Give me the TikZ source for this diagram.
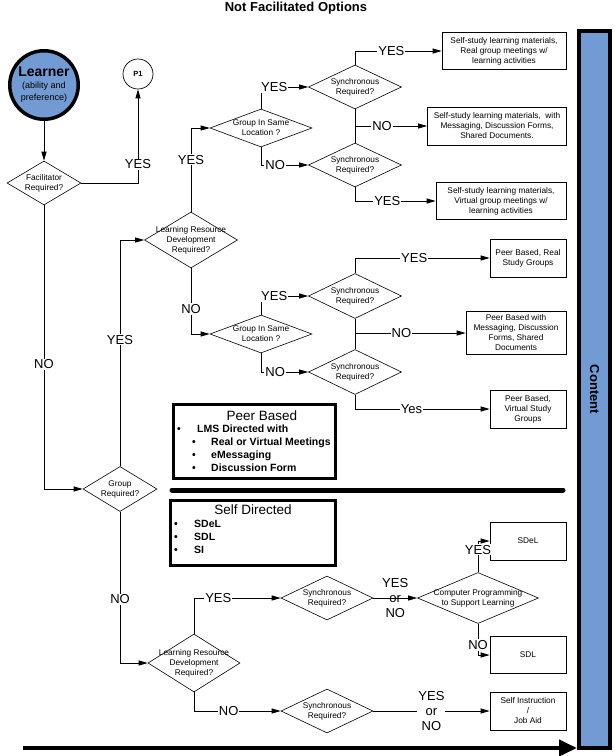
\documentclass[tikz,border=0pt]{standalone}
\usepackage{fontspec}
\setmainfont{Liberation Sans}
\usetikzlibrary{shapes.geometric,arrows.meta}
\definecolor{learnerblue}{RGB}{114,155,212}
\newcommand{\smallfont}{\fontsize{8.3}{10}\selectfont}
\newcommand{\answerfont}{\fontsize{13}{15}\selectfont}

\begin{document}
\begin{tikzpicture}[x=1pt, y=-1pt,
  decision/.style 2 args={diamond, draw, line width=0.6pt, inner sep=0pt, minimum width=#1, minimum height=#2},
  outcome/.style 2 args={rectangle, draw, line width=0.7pt, inner sep=1pt, align=center, font=\smallfont, minimum width=#1, minimum height=#2},
  legend/.style 2 args={rectangle, draw, line width=3pt, inner sep=0pt, minimum width=#1, minimum height=#2},
  every label/.style={align=center, font=\smallfont, inner sep=0pt},
  item/.style={anchor=west, inner sep=0pt, font=\fontsize{10.5}{12}\selectfont\bfseries},
  link/.style={line width=0.8pt},
  arr/.style={-{Triangle[length=9pt,width=5pt]}, line width=0.8pt},
  answer/.style={font=\answerfont, align=center, fill=white, inner sep=1pt}]
  \useasboundingbox (0,0) rectangle (614,756);
  \node[font=\fontsize{13}{15}\selectfont\bfseries] (title) at (296,8) {Not Facilitated Options};
  \node[circle, draw, line width=3.5pt, fill=learnerblue, minimum size=68.5pt, inner sep=0pt, align=center, font=\fontsize{9}{12}\selectfont] (learner) at (44,85) {{\fontsize{14}{16}\selectfont\bfseries Learner}\\(ability and\\preference)};
  \node[circle, draw, line width=0.7pt, minimum size=30pt, inner sep=0pt, font=\fontsize{7.5}{9}\selectfont\bfseries] (p1) at (138,74) {P1};
  \node[decision={74pt}{44pt}, label=center:{Facilitator\\Required?}] (fac) at (44,183) {};
  \node[decision={74pt}{45pt}, label=center:{Group\\Required?}] (grp) at (120,489) {};
  \node[decision={93pt}{56pt}, label=center:{Learning Resource\\Development\\Required?}] (lrd1) at (191,240) {};
  \node[decision={102pt}{38pt}, label=center:{Group In Same\\Location ?}] (gsl1) at (261,128) {};
  \node[decision={93pt}{44pt}, label=center:{Synchronous\\Required?}] (sync1) at (355,87) {};
  \node[decision={93pt}{44pt}, label=center:{Synchronous\\Required?}] (sync2) at (355,165) {};
  \node[decision={102pt}{38pt}, label=center:{Group In Same\\Location ?}] (gsl2) at (261,334) {};
  \node[decision={93pt}{45pt}, label=center:{Synchronous\\Required?}] (sync3) at (355,296) {};
  \node[decision={93pt}{45pt}, label=center:{Synchronous\\Required?}] (sync4) at (355,372) {};
  \node[decision={92pt}{58pt}, label=center:{Learning Resource\\Development\\Required?}] (lrd2) at (194,663) {};
  \node[decision={92pt}{44pt}, label=center:{Synchronous\\Required?}] (sync5) at (327,598) {};
  \node[decision={92pt}{44pt}, label=center:{Synchronous\\Required?}] (sync6) at (327,711) {};
  \node[decision={121pt}{51pt}, label=center:{Computer Programming\\to Support Learning}] (cp) at (478,598) {};
  \node[outcome={124pt}{37pt}] (realgroup) at (504,51) {Self-study learning materials,\\Real group meetings w/\\learning activities};
  \node[outcome={139pt}{38pt}] (messaging) at (497,126) {Self-study learning materials,\ \ with\\Messaging, Discussion Forms,\\Shared Documents.};
  \node[outcome={130pt}{37pt}] (virtualgroup) at (501,201) {Self-study learning materials,\\Virtual group meetings w/\\learning activities};
  \node[outcome={76pt}{38pt}] (peerreal) at (528,258) {Peer Based, Real\\Study Groups};
  \node[outcome={100pt}{43pt}] (peermsg) at (516,333) {Peer Based with\\Messaging, Discussion\\Forms, Shared\\Documents};
  \node[outcome={76pt}{38pt}] (peervirtual) at (528,409) {Peer Based,\\Virtual Study\\Groups};
  \node[outcome={76pt}{38pt}] (sdel) at (528,541) {SDeL};
  \node[outcome={76pt}{37pt}] (sdl) at (528,655) {SDL};
  \node[outcome={76pt}{38pt}] (jobaid) at (528,711) {Self Instruction\\/\\Job Aid};
  \node[legend={162pt}{74pt}] (peer) at (254.5,441.5) {};
  \node[font=\fontsize{13.5}{16}\selectfont] (peertitle) at (262,416) {Peer Based};
  \node[item] (peeritem1) at (177,429) {\makebox[20pt][l]{\textbullet}LMS Directed with};
  \node[item] (peeritem2) at (192,443) {\makebox[19pt][l]{\textbullet}Real or Virtual Meetings};
  \node[item] (peeritem3) at (192,456) {\makebox[19pt][l]{\textbullet}eMessaging};
  \node[item] (peeritem4) at (192,468) {\makebox[19pt][l]{\textbullet}Discussion Form};
  \node[legend={165pt}{65pt}] (self) at (253,533) {};
  \node[font=\fontsize{13.5}{16}\selectfont] (selftitle) at (253,510) {Self Directed};
  \node[item] (selfitem1) at (174,524) {\makebox[20pt][l]{\textbullet}SDeL};
  \node[item] (selfitem2) at (174,537) {\makebox[20pt][l]{\textbullet}SDL};
  \node[item] (selfitem3) at (174,550) {\makebox[20pt][l]{\textbullet}SI};
  \node[draw, line width=4pt, fill=learnerblue, rotate=-90, minimum width=717pt, minimum height=31pt, inner sep=0pt, font=\fontsize{13}{15}\selectfont\bfseries] (content) at (594.5,389.5) {Content};
  \coordinate (dividerleft) at (172,490);
  \coordinate (dividerright) at (563,490);
  \coordinate (flowstart) at (23,748);
  \draw[line width=5pt, line cap=round] (dividerleft) -- (dividerright);
  \draw[line width=4pt, -{Triangle[length=18pt,width=16pt]}] (flowstart) -- (content.south |- flowstart);
  \draw[arr] (learner) -- (fac);
  \draw[arr] (fac.east) -| node[answer, pos=0.6] {YES} (p1.south);
  \draw[arr] (fac.south) |- node[answer, pos=0.28] {NO} (grp.west);
  \draw[arr] (grp.north) |- node[answer, pos=0.28] {YES} (lrd1.west);
  \draw[arr] (lrd1.north) |- node[answer, pos=0.31] {YES} (gsl1.west);
  \draw[arr] (lrd1.south) |- node[answer, pos=0.31] {NO} (gsl2.west);
  \draw[arr] (gsl1.north) |- node[answer, pos=0.64] {YES} (sync1.west);
  \draw[arr] (gsl1.south) |- node[answer, pos=0.65] {NO} (sync2.west);
  \draw[arr] (sync1.north) |- node[answer, pos=0.71] {YES} (realgroup.west);
  \draw[link] (sync1) -- (sync2);
  \draw[arr] (sync1.south |- messaging.west) -- node[answer, pos=0.375] {NO} (messaging.west);
  \draw[arr] (sync2.south) |- node[answer, pos=0.7] {YES} (virtualgroup.west);
  \draw[arr] (gsl2.north) |- node[answer, pos=0.64] {YES} (sync3.west);
  \draw[arr] (gsl2.south) |- node[answer, pos=0.65] {NO} (sync4.west);
  \draw[arr] (sync3.north) |- node[answer, pos=0.72] {YES} (peerreal.west);
  \draw[link] (sync3) -- (sync4);
  \draw[arr] (sync3.south |- peermsg.west) -- node[answer, pos=0.42] {NO} (peermsg.west);
  \draw[arr] (sync4.south) |- node[answer, pos=0.71] {Yes} (peervirtual.west);
  \draw[arr] (grp.south) |- node[answer, pos=0.29] {NO} (lrd2.west);
  \draw[arr] (lrd2.north) |- node[answer, pos=0.64] {YES} (sync5.west);
  \draw[arr] (lrd2.south) |- node[answer, pos=0.7] {NO} (sync6.west);
  \draw[arr] (sync5.east) -- node[answer, fill=none] {YES\\or\\NO} (cp.west);
  \draw[arr] (cp.north) |- node[answer, pos=0.36] {YES} (sdel.west);
  \draw[arr] (cp.south) |- node[answer, pos=0.34] {NO} (sdl.west);
  \draw[arr] (sync6.east) -- node[answer] {YES\\or\\NO} (jobaid.west);
\end{tikzpicture}
\end{document}
